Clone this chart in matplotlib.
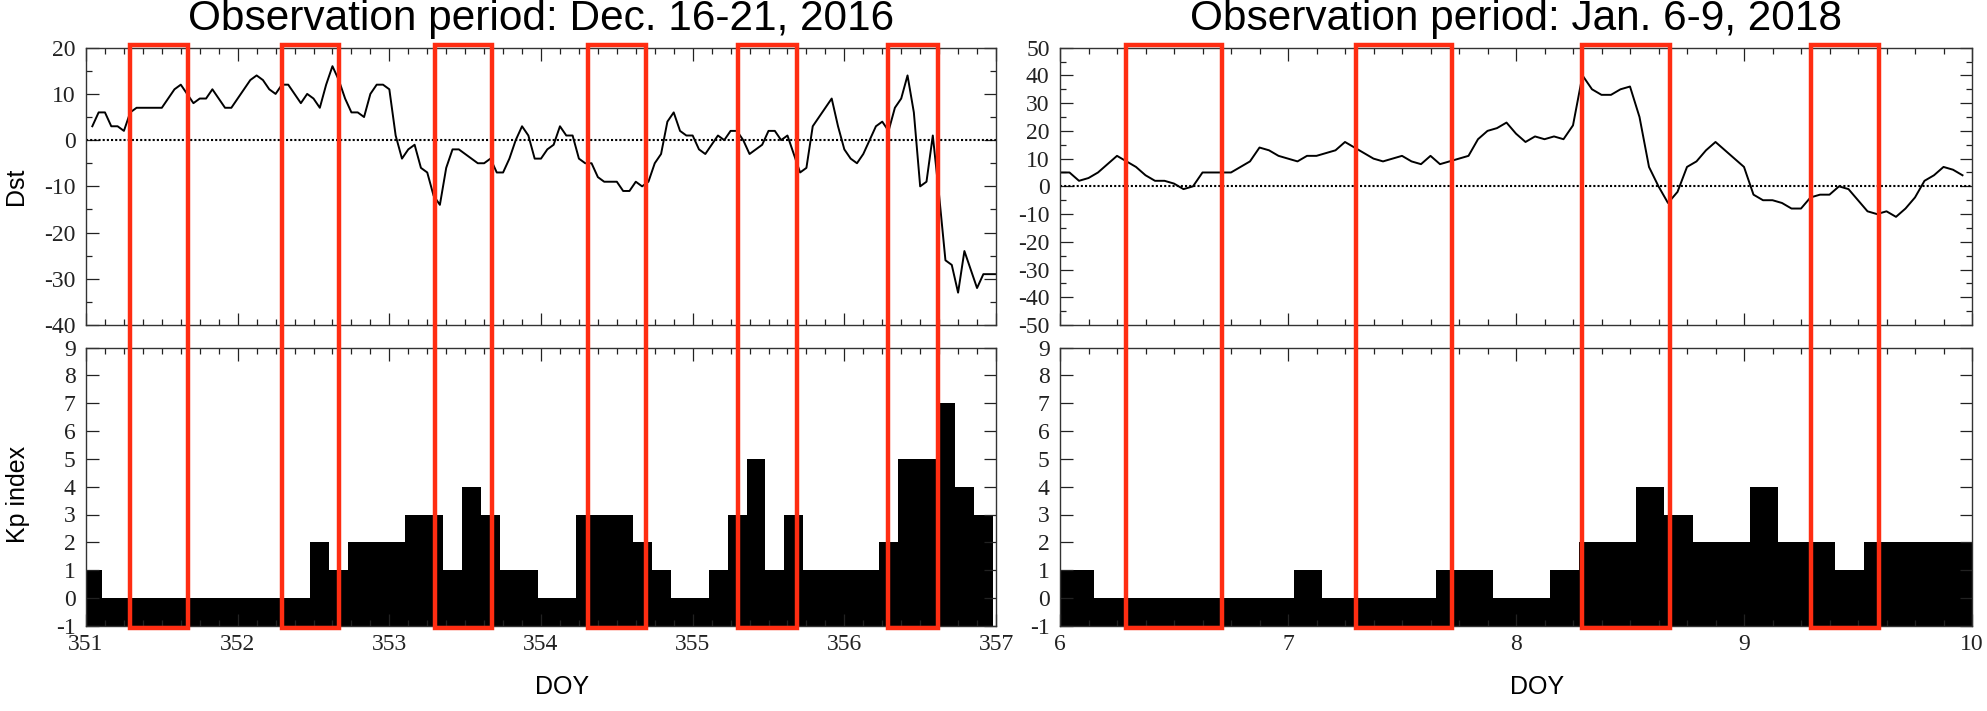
import numpy as np
import matplotlib
matplotlib.use("Agg")
import matplotlib.pyplot as plt
from matplotlib.patches import Rectangle
from matplotlib.transforms import blended_transform_factory
from matplotlib.ticker import MultipleLocator

plt.rcParams['axes.unicode_minus'] = False

# Dec. 16-21, 2016: hourly Dst (hours 1..144 after DOY 351), 3-hourly Kp
dst1 = [3, 6, 6, 3, 3, 2, 6, 7, 7, 7, 7, 7,
        9, 11, 12, 10, 8, 9, 9, 11, 9, 7, 7, 9,
        11, 13, 14, 13, 11, 10, 12, 12, 10, 8, 10, 9,
        7, 12, 16, 13, 9, 6, 6, 5, 10, 12, 12, 11,
        1, -4, -2, -1, -6, -7, -12, -14, -6, -2, -2, -3,
        -4, -5, -5, -4, -7, -7, -4, 0, 3, 1, -4, -4,
        -2, -1, 3, 1, 1, -4, -5, -5, -8, -9, -9, -9,
        -11, -11, -9, -10, -9, -5, -3, 4, 6, 2, 1, 1,
        -2, -3, -1, 1, 0, 2, 2, 0, -3, -2, -1, 2,
        2, 0, 1, -3, -7, -6, 3, 5, 7, 9, 3, -2,
        -4, -5, -3, 0, 3, 4, 2, 7, 9, 14, 6, -10,
        -9, 1, -12, -26, -27, -33, -24, -28, -32, -29, -29, -29]
kp1_start = 350.98
kp1 = [1, 0, 0, 0, 0, 0, 0, 0, 0, 0, 0, 0, 2, 1, 2, 2, 2, 3, 3, 1, 4, 3, 1, 1,
       0, 0, 3, 3, 3, 2, 1, 0, 0, 1, 3, 5, 1, 3, 1, 1, 1, 1, 2, 5, 5, 7, 4, 3]
boxes1 = [(351.29, 351.67), (352.29, 352.67), (353.30, 353.68),
          (354.31, 354.69), (355.30, 355.69), (356.29, 356.62)]

# Jan. 6-9, 2018: hourly Dst (hours 0..95 after DOY 6), 3-hourly Kp
dst2 = [5, 5, 2, 3, 5, 8, 11, 9, 7, 4, 2, 2,
        1, -1, 0, 5, 5, 5, 5, 7, 9, 14, 13, 11,
        10, 9, 11, 11, 12, 13, 16, 14, 12, 10, 9, 10,
        11, 9, 8, 11, 8, 9, 10, 11, 17, 20, 21, 23,
        19, 16, 18, 17, 18, 17, 22, 40, 35, 33, 33, 35,
        36, 25, 7, 0, -6, -2, 7, 9, 13, 16, 13, 10,
        7, -3, -5, -5, -6, -8, -8, -4, -3, -3, 0, -1,
        -5, -9, -10, -9, -11, -8, -4, 2, 4, 7, 6, 4]
kp2_start = 5.9
kp2 = [1, 1, 0, 0, 0, 0, 0, 0, 0, 1, 0, 0, 0, 0, 1, 1, 0, 0, 1, 2, 2, 4, 3, 2,
       2, 4, 2, 2, 1, 2, 2, 2, 2]
boxes2 = [(6.29, 6.71), (7.30, 7.72), (8.29, 8.675), (9.295, 9.59)]

titles = ["Observation period: Dec. 16-21, 2016", "Observation period: Jan. 6-9, 2018"]

t1 = 351 + np.arange(1, len(dst1) + 1) / 24.0
t2 = 6 + np.arange(0, len(dst2)) / 24.0
e1 = kp1_start + 0.125 * np.arange(len(kp1))
e2 = kp2_start + 0.125 * np.arange(len(kp2))

fig = plt.figure(figsize=(19.87, 7.11), dpi=100)
W, H = 1987.0, 711.0


def px_axes(x0, x1, y0, y1):
    return fig.add_axes([x0 / W, 1 - y1 / H, (x1 - x0) / W, (y1 - y0) / H])


ax1 = px_axes(86, 996, 47.7, 325)
ax2 = px_axes(86, 996, 347.7, 625.7)
ax3 = px_axes(1060, 1972, 47.7, 325)
ax4 = px_axes(1060, 1972, 347.7, 625.7)

red = '#ff2d12'
serif = 'Liberation Serif'
sans = 'Liberation Sans'

for top, bot, t, dst, edges, kp, xlim, ylim, boxes, title in [
        (ax1, ax2, t1, dst1, e1, kp1, (351, 357), (-40, 20), boxes1, titles[0]),
        (ax3, ax4, t2, dst2, e2, kp2, (6, 10), (-50, 50), boxes2, titles[1])]:
    top.plot(t, dst, color='black', lw=1.4)
    top.axhline(0, color='black', lw=1.5, ls=(0, (1, 1)))
    top.set_xlim(xlim)
    top.set_ylim(ylim)
    top.yaxis.set_major_locator(MultipleLocator(10))
    top.yaxis.set_minor_locator(MultipleLocator(5))

    bot.bar(edges, np.array(kp) + 1, width=0.125, bottom=-1, align='edge',
            color='black', linewidth=0)
    bot.set_xlim(xlim)
    bot.set_ylim(-1, 9)
    bot.yaxis.set_major_locator(MultipleLocator(1))

    for ax in (top, bot):
        ax.xaxis.set_major_locator(MultipleLocator(1))
        ax.xaxis.set_minor_locator(MultipleLocator(0.125))
        ax.tick_params(which='both', direction='in', top=True, right=True,
                       width=0.9, colors='#222222', labelsize=17)
        ax.tick_params(which='major', length=9)
        ax.tick_params(which='minor', length=4.5)
        ax.tick_params(axis='y', pad=7.5)
        ax.tick_params(axis='x', pad=6)
        for s in ax.spines.values():
            s.set_linewidth(1.0)
            s.set_color('#333333')
        for lab in ax.get_xticklabels() + ax.get_yticklabels():
            lab.set_family(serif)
    top.tick_params(labelbottom=False)

    # highlighted windows spanning both panels
    tr = blended_transform_factory(top.transData, fig.transFigure)
    for x0, x1 in boxes:
        fig.add_artist(Rectangle((x0, 1 - 628 / H), x1 - x0, (628 - 45) / H,
                                 transform=tr, fill=False, edgecolor=red,
                                 lw=3.2, clip_on=False, zorder=10))

    cx = (top.get_position().x0 + top.get_position().x1) / 2
    fig.text(cx, 1 - 30 / H, title, ha='center', va='baseline',
             fontsize=30.5, family=sans)
    fig.text(cx + 21 / W, 1 - 687 / H, 'DOY', ha='center', va='center',
             fontsize=18, family=sans)

fig.text(16 / W, 1 - 186 / H, 'Dst', rotation=90, ha='center', va='center',
         fontsize=18, family=sans)
fig.text(18 / W, 1 - 494 / H, 'Kp index', rotation=90, ha='center', va='center',
         fontsize=18, family=sans)

plt.savefig('out.png', dpi=100)
